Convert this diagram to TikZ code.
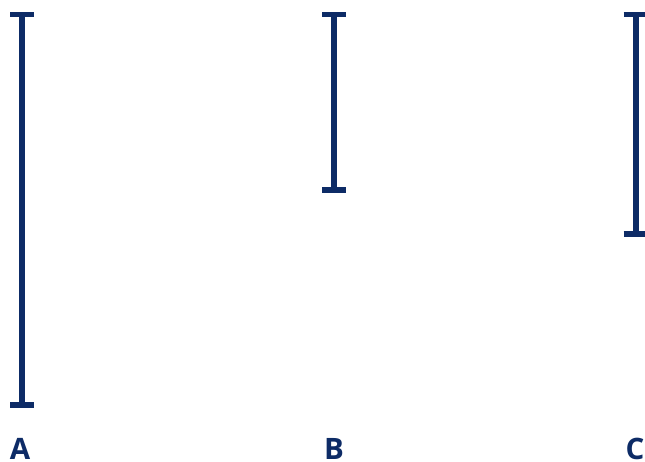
\documentclass[tikz,border=0pt]{standalone}
\usepackage{fontspec}
\setmainfont{Open Sans}
\usepackage{xcolor}
\usetikzlibrary{positioning}
\definecolor{navy}{RGB}{13,43,102}

\begin{document}
\begin{tikzpicture}[x=1pt, y=-1pt,
  spanline/.style={draw=navy, line width=6pt},
  capline/.style={draw=navy, line width=5.5pt},
  tag/.style={text=navy, font=\fontsize{29.5}{30}\selectfont\bfseries, anchor=base, inner sep=0pt}]
\useasboundingbox (0,0) rectangle (645,462);
\def\errbar#1#2#3{%
  \coordinate (t#1) at (#2,14.5);
  \coordinate (b#1) at (#2,#3);
  \draw[spanline] (t#1) -- (b#1);
  \draw[capline] ([xshift=-12pt]t#1) -- ([xshift=12pt]t#1);
  \draw[capline] ([xshift=-12pt]b#1) -- ([xshift=12pt]b#1);}
\errbar{A}{22}{405}
\errbar{B}{334}{190}
\errbar{C}{635.5}{234}
\node[tag] (la) at (20,459.5) {A};
\node[tag] (lb) at (334,459.5) {B};
\node[tag] (lc) at (635,459.5) {C};
\end{tikzpicture}
\end{document}
